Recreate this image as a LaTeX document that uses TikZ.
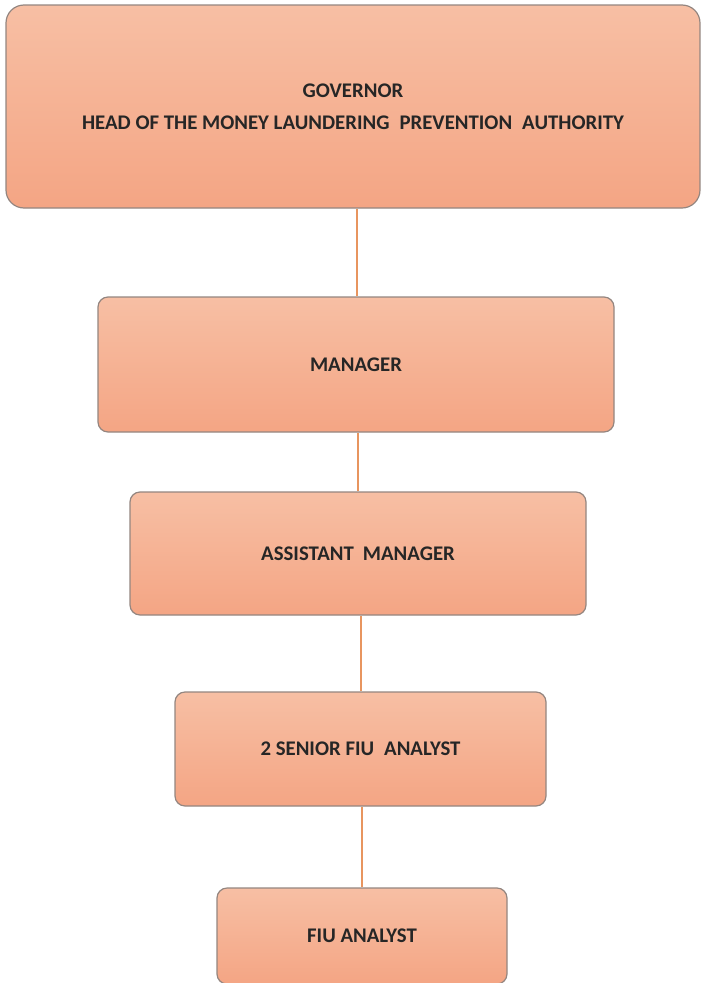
\documentclass[tikz,border=0pt]{standalone}
\usepackage{fontspec}
\setmainfont{Carlito}
\definecolor{boxtop}{HTML}{F7BFA4}
\definecolor{boxbot}{HTML}{F4A584}
\definecolor{boxline}{HTML}{948680}
\definecolor{conn}{HTML}{E8955F}
\tikzset{
  orgbox/.style={draw=boxline, line width=1.2pt, top color=boxtop, bottom color=boxbot,
    rounded corners=10pt, inner sep=0pt, align=center,
    font=\fontsize{20.8}{32}\selectfont\bfseries, text=black!85},
  orgline/.style={draw=conn, line width=1.6pt}
}
\begin{document}
\begin{tikzpicture}[x=1pt,y=-1pt]
\useasboundingbox (0,0) rectangle (701,983);
\node[orgbox, rounded corners=18pt, minimum width=694pt, minimum height=203pt] (gov) at (353,106.5)
  {GOVERNOR\\HEAD OF THE MONEY LAUNDERING\hspace{10pt}PREVENTION\hspace{10pt}AUTHORITY};
\node[orgbox, minimum width=516pt, minimum height=135pt] (mgr) at (356,364.5) {MANAGER};
\node[orgbox, minimum width=456pt, minimum height=123pt] (asst) at (358,553.5) {ASSISTANT\hspace{9pt}MANAGER};
\node[orgbox, minimum width=371pt, minimum height=114pt] (sen) at (360.5,749) {2 SENIOR FIU\hspace{10pt}ANALYST};
\node[orgbox, minimum width=290pt, minimum height=96pt] (fiu) at (362,936) {FIU ANALYST};
\draw[orgline] ([xshift=1pt]mgr.north) -- ([xshift=1pt]mgr.north |- gov.south);
\draw[orgline] (asst.north) -- (asst.north |- mgr.south);
\draw[orgline] ([xshift=0.5pt]sen.north) -- ([xshift=0.5pt]sen.north |- asst.south);
\draw[orgline] (fiu.north) -- (fiu.north |- sen.south);
\end{tikzpicture}
\end{document}
